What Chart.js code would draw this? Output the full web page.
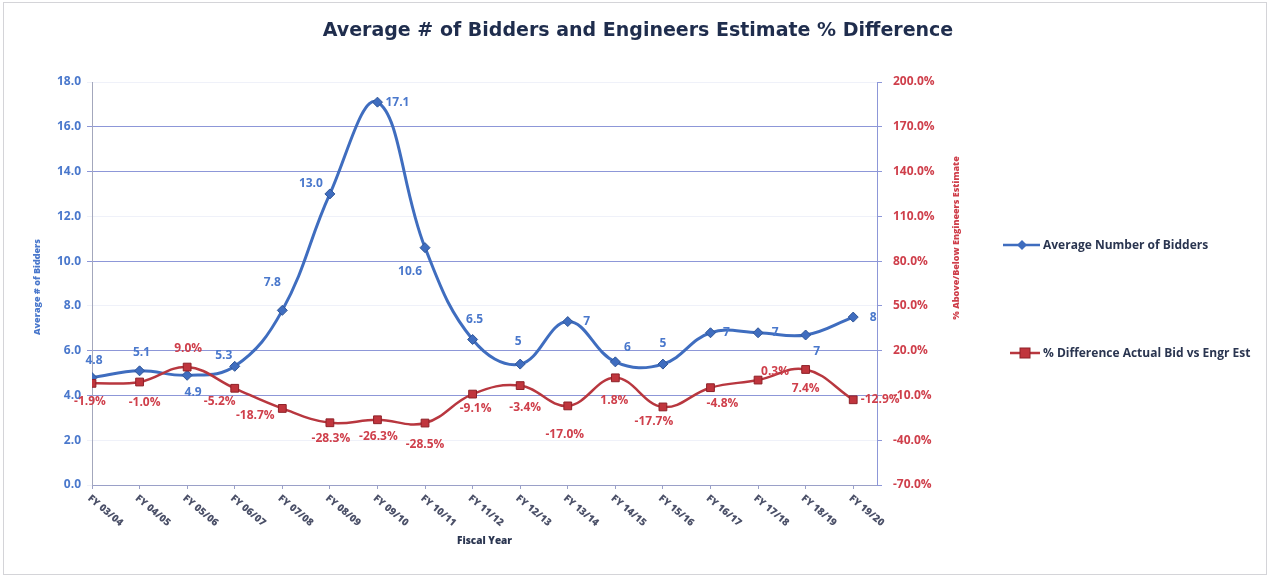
<!DOCTYPE html>
<html>
<head>
<meta charset="utf-8">
<script src="https://cdn.jsdelivr.net/npm/chart.js@4"></script>
<style>
  html, body { margin: 0; padding: 0; background: #fff; }
  #wrap { position: relative; width: 1270px; height: 577px; }
  #wrap:after { content: ''; position: absolute; left: 3px; top: 2px; right: 3px; bottom: 2px; border: 1px solid #d4d4d8; pointer-events: none; }
</style>
</head>
<body>
<div id="wrap"><canvas id="chart" width="1270" height="577"></canvas></div>
<script>
const fiscalYears = ['FY 03/04', 'FY 04/05', 'FY 05/06', 'FY 06/07', 'FY 07/08', 'FY 08/09', 'FY 09/10', 'FY 10/11',
  'FY 11/12', 'FY 12/13', 'FY 13/14', 'FY 14/15', 'FY 15/16', 'FY 16/17', 'FY 17/18', 'FY 18/19', 'FY 19/20'];
const avgBidders = [4.8, 5.1, 4.9, 5.3, 7.8, 13.0, 17.1, 10.6, 6.5, 5.4, 7.3, 5.5, 5.4, 6.8, 6.8, 6.7, 7.5];
const pctDiff = [-1.9, -1.0, 9.0, -5.2, -18.7, -28.3, -26.3, -28.5, -9.1, -3.4, -17.0, 1.8, -17.7, -4.8, 0.3, 7.4, -12.9];

// where each data label sits relative to its point (dx, dy)
const blueLabelOffsets = [[2, -17], [2, -18], [6, 17], [-11, -11], [-10, -28], [-19, -10], [20, 0], [-15, 24], [2, -20],
  [-2, -23], [19, 0], [12, -14], [0, -21], [16, 0], [17, 0], [11, 17], [20, 0]];
const redLabelOffsets = [[-2, 18], [5, 21], [1, -19], [-15, 13], [-27, 7], [1, 16], [1, 17], [0, 22], [3, 14],
  [5, 22], [-3, 29], [-1, 23], [-9, 15], [12, 16], [17, -8], [0, 19], [27, 0]];

const BLUE = '#3F6DBF';
const BLUE_TXT = '#4A78CC';
const RED = '#B8373F';
const RED_TXT = '#CF3F4B';
const DARK = '#2A3550';
const FONT = "'Open Sans', sans-serif";

const strongGrid = [4, 6, 10, 14, 16];

const overlay = {
  id: 'overlay',
  afterDatasetsDraw(chart) {
    const ctx = chart.ctx;
    ctx.save();
    ctx.font = '700 12px ' + FONT;
    ctx.textAlign = 'center';
    ctx.textBaseline = 'middle';
    const blueMeta = chart.getDatasetMeta(0);
    const redMeta = chart.getDatasetMeta(1);
    ctx.fillStyle = BLUE_TXT;
    blueMeta.data.forEach((pt, i) => {
      const txt = i < 9 ? avgBidders[i].toFixed(1) : avgBidders[i].toFixed(0);
      ctx.fillText(txt, pt.x + blueLabelOffsets[i][0], pt.y + blueLabelOffsets[i][1]);
    });
    ctx.fillStyle = RED_TXT;
    redMeta.data.forEach((pt, i) => {
      ctx.fillText(pctDiff[i].toFixed(1) + '%', pt.x + redLabelOffsets[i][0], pt.y + redLabelOffsets[i][1]);
    });
    ctx.restore();
  },
  afterDraw(chart) {
    const ctx = chart.ctx;
    const area = chart.chartArea;
    const xs = chart.scales.x;
    ctx.save();

    // title
    ctx.fillStyle = '#1F2D4D';
    ctx.font = "bold 19px 'DejaVu Sans', sans-serif";
    ctx.textAlign = 'center';
    ctx.textBaseline = 'middle';
    ctx.fillText('Average # of Bidders and Engineers Estimate % Difference', 638, 31);

    // x tick labels, slanted down to the right
    ctx.font = '800 10px ' + FONT;
    ctx.fillStyle = '#4B5068';
    ctx.textAlign = 'left';
    fiscalYears.forEach((lab, i) => {
      const x = xs.getPixelForValue(i);
      ctx.save();
      ctx.translate(x - 3, area.bottom + 12);
      ctx.rotate(40 * Math.PI / 180);
      ctx.fillText(lab, 0, 0);
      ctx.restore();
    });

    // x title
    ctx.textAlign = 'center';
    ctx.fillStyle = DARK;
    ctx.font = '800 10px ' + FONT;
    ctx.fillText('Fiscal Year', (area.left + area.right) / 2, 541);

    // left axis title
    ctx.save();
    ctx.translate(37, 287);
    ctx.rotate(-Math.PI / 2);
    ctx.fillStyle = BLUE_TXT;
    ctx.font = '800 9px ' + FONT;
    ctx.fillText('Average # of Bidders', 0, 0);
    ctx.restore();

    // right axis title
    ctx.save();
    ctx.translate(956, 238);
    ctx.rotate(-Math.PI / 2);
    ctx.fillStyle = RED_TXT;
    ctx.font = '800 9px ' + FONT;
    ctx.fillText('% Above/Below Engineers Estimate', 0, 0);
    ctx.restore();

    // legend
    ctx.font = '700 12px ' + FONT;
    ctx.textAlign = 'left';
    // blue entry
    ctx.strokeStyle = BLUE;
    ctx.lineWidth = 2.5;
    ctx.beginPath(); ctx.moveTo(1003, 245); ctx.lineTo(1040, 245); ctx.stroke();
    ctx.fillStyle = BLUE;
    ctx.beginPath();
    ctx.moveTo(1022, 240); ctx.lineTo(1027, 245); ctx.lineTo(1022, 250); ctx.lineTo(1017, 245); ctx.closePath();
    ctx.fill();
    ctx.fillStyle = DARK;
    ctx.fillText('Average Number of Bidders', 1043, 246);
    // red entry
    ctx.strokeStyle = RED;
    ctx.beginPath(); ctx.moveTo(1010, 353); ctx.lineTo(1040, 353); ctx.stroke();
    ctx.fillStyle = '#C0353D';
    ctx.strokeStyle = '#8E2128';
    ctx.lineWidth = 1;
    ctx.fillRect(1020, 348, 10, 10);
    ctx.strokeRect(1020, 348, 10, 10);
    ctx.fillStyle = DARK;
    ctx.fillText('% Difference Actual Bid vs Engr Est', 1043, 354);

    ctx.restore();
  }
};

new Chart(document.getElementById('chart'), {
  type: 'line',
  data: {
    datasets: [
      {
        label: 'Average Number of Bidders',
        data: avgBidders.map((v, i) => ({ x: i, y: v })),
        yAxisID: 'y',
        borderColor: BLUE,
        backgroundColor: BLUE,
        borderWidth: 3,
        tension: 0.4,
        pointStyle: 'rectRot',
        pointRadius: 5,
        pointBorderColor: '#2F5597',
        pointBorderWidth: 1,
        order: 1
      },
      {
        label: '% Difference Actual Bid vs Engr Est',
        data: pctDiff.map((v, i) => ({ x: i, y: v })),
        yAxisID: 'y1',
        borderColor: RED,
        backgroundColor: '#C0353D',
        borderWidth: 2.5,
        tension: 0.4,
        pointStyle: 'rect',
        pointRadius: 5.5,
        pointBorderColor: '#8E2128',
        pointBorderWidth: 1,
        order: 0
      }
    ]
  },
  options: {
    responsive: false,
    animation: false,
    layout: { padding: { top: 82, left: 0, right: 0, bottom: 0 } },
    plugins: {
      legend: { display: false },
      tooltip: { enabled: false }
    },
    scales: {
      x: {
        type: 'linear',
        min: 0,
        max: 16.5,
        afterFit: s => { s.height = 92; },
        ticks: { display: false, stepSize: 1, includeBounds: false },
        grid: { drawOnChartArea: false, tickLength: 4, color: '#9AA0C8' },
        border: { color: '#9AA0C8' }
      },
      y: {
        position: 'left',
        min: 0,
        max: 18,
        afterFit: s => { s.width = 92; },
        ticks: {
          stepSize: 2,
          padding: 6,
          color: BLUE_TXT,
          font: { family: FONT, size: 12, weight: '700' },
          callback: v => v.toFixed(1)
        },
        grid: {
          tickLength: 5,
          lineWidth: 1,
          color: c => strongGrid.includes(c.tick.value) ? '#8D97D8' : 'rgba(150,160,215,0.15)'
        },
        border: { color: '#A3A7BC' }
      },
      y1: {
        position: 'right',
        min: -70,
        max: 200,
        afterFit: s => { s.width = 393; },
        ticks: {
          stepSize: 30,
          padding: 11,
          color: RED_TXT,
          font: { family: FONT, size: 12, weight: '700' },
          callback: v => v.toFixed(1) + '%'
        },
        grid: { drawOnChartArea: false, tickLength: 5, color: '#8D97D8' },
        border: { color: '#8D97D8' }
      }
    }
  },
  plugins: [overlay]
});
</script>
</body>
</html>
